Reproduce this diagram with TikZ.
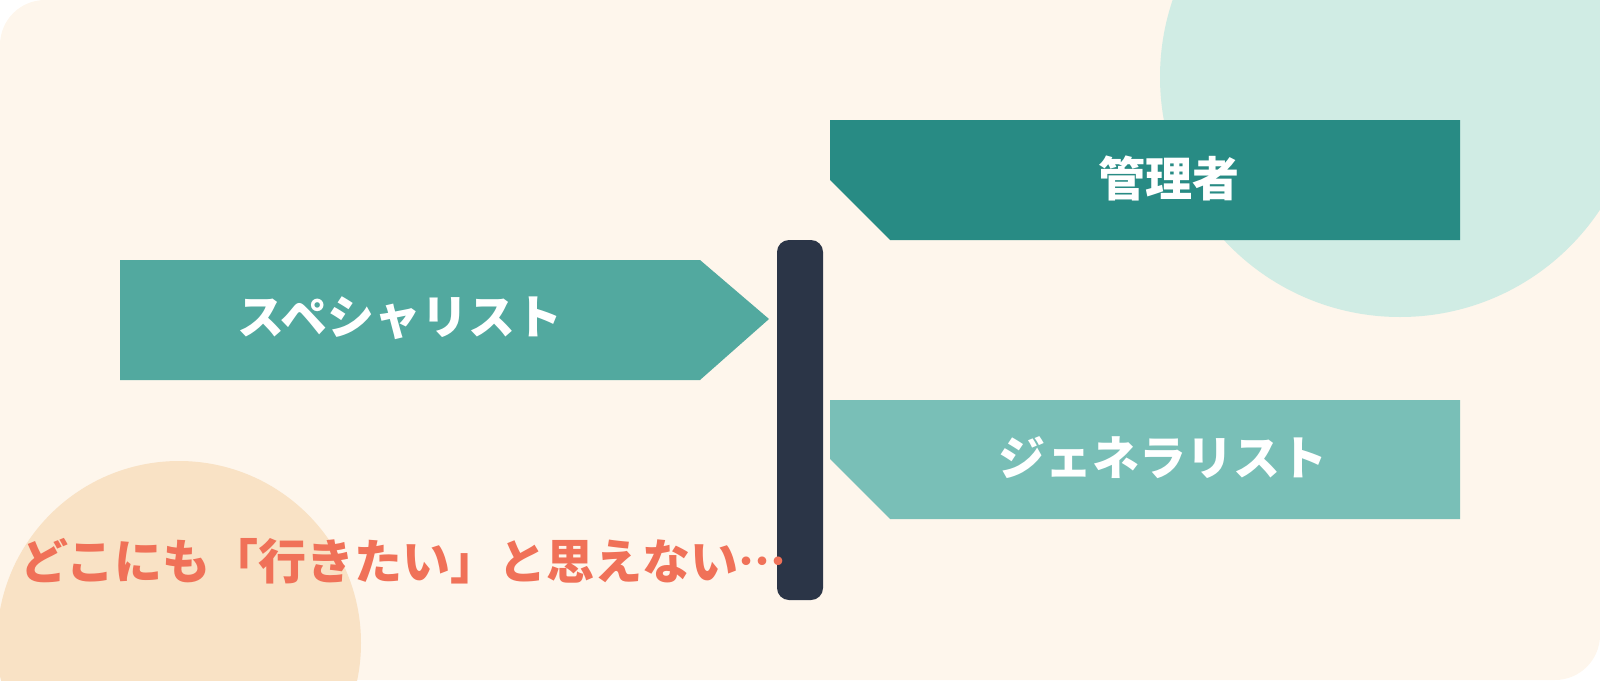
\documentclass[tikz,border=0pt]{standalone}
\usepackage{fontspec}
\usepackage{xcolor}
\usepackage{tikz}
\newfontfamily\jpfont[Language=Japanese]{Noto Sans CJK JP}
\definecolor{bgcream}{HTML}{FEF6EC}
\definecolor{mintdisc}{HTML}{D0ECE4}
\definecolor{peachdisc}{HTML}{F9E2C5}
\definecolor{postnavy}{HTML}{2B3547}
\definecolor{signmid}{HTML}{52A99F}
\definecolor{signdark}{HTML}{288B84}
\definecolor{signlight}{HTML}{79BFB7}
\definecolor{doubtcoral}{HTML}{F07158}

\begin{document}
\begin{tikzpicture}[x=1pt, y=-1pt,
  signtext/.style={font=\jpfont\bfseries\fontsize{47}{50}\selectfont, text=white, inner sep=0pt},
  doubttext/.style={font=\jpfont\bfseries\fontsize{48}{50}\selectfont, text=doubtcoral, inner sep=0pt, anchor=west}]
  \useasboundingbox (0,0) rectangle (1600,680);
  \fill[bgcream, rounded corners=45pt] (0,0) rectangle (1600,680);
  \fill[mintdisc] (1400,77) circle (240);
  \fill[peachdisc] (179,643) circle (182);
  % post
  \fill[postnavy, rounded corners=12pt] (777,240) rectangle (823,600);
  % signs
  \fill[signmid] (120,260) -- (700,260) -- (769,319) -- (700,380) -- (120,380) -- cycle;
  \fill[signdark] (830,120) -- (1460,120) -- (1460,240) -- (890,240) -- (830,180) -- cycle;
  \fill[signlight] (830,400) -- (1460,400) -- (1460,519) -- (890,519) -- (830,459) -- cycle;
  \node[signtext] (specialist) at (400,318) {スペシャリスト};
  \node[signtext] (manager) at (1169,178) {管理者};
  \node[signtext] (generalist) at (1163,458) {ジェネラリスト};
  \node[doubttext] (nowhere) at (20,561) {どこにも「行きたい」と思えない…};
\end{tikzpicture}
\end{document}
